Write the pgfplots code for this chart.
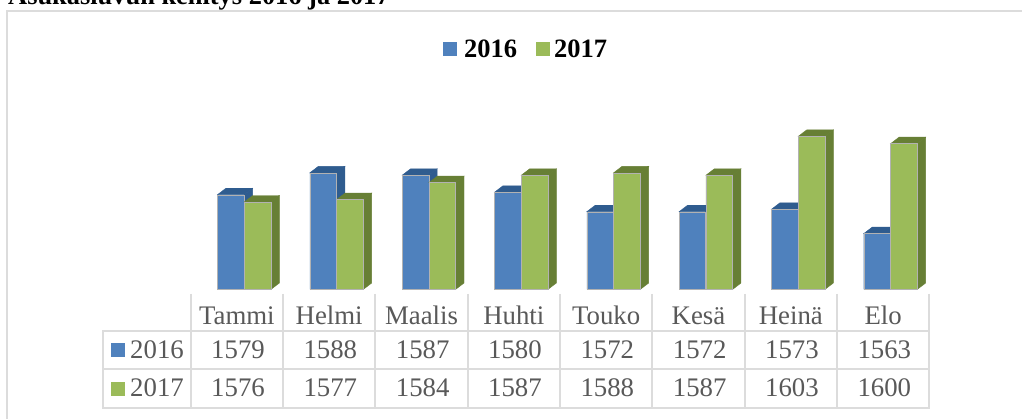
\documentclass[border=0pt]{standalone}
\usepackage{fontspec}
\setmainfont{Liberation Serif}
\usepackage{pgfplots}
\pgfplotsset{compat=1.18}
\definecolor{blue1}{HTML}{4F81BD}
\definecolor{blue2}{HTML}{2F5C8F}
\definecolor{green1}{HTML}{9BBB59}
\definecolor{green2}{HTML}{677F35}
\definecolor{txt}{HTML}{595959}
\definecolor{gridc}{HTML}{DCDCDC}

\pgfplotstableread{
x y16 y17
0 1579 1576
1 1588 1577
2 1587 1584
3 1580 1587
4 1572 1588
5 1572 1587
6 1573 1603
7 1563 1600
}\months

% faces of the 3d bars, drawn at each data point (bar top, right edge);
% marks go on top of all plots, so the front face is painted here as well
\pgfplotsset{
 depth/.style n args={3}{
  only marks,mark=*,mark size=0pt,scatter,forget plot,
  visualization depends on={rawy \as \rawy},
  scatter/@pre marker code/.code={
   \pgfscope
   \pgfmathsetlengthmacro\barh{(\rawy-1540)*2.43pt}
   \pgftransformshift{\pgfpoint{#1}{0pt}}
   \fill[#2] (0pt,0pt) -- (8.5pt,6.5pt) -- (8.5pt,{6.5pt-\barh}) -- (0pt,-\barh) -- cycle;
   \fill[#2] (0pt,0pt) -- (8.5pt,6.5pt) -- (-18.1pt,6.5pt) -- (-26.6pt,0pt) -- cycle;
   \path[fill=#3,draw=gray!60,line width=0.4pt] (0pt,0pt) rectangle (-26.6pt,-\barh);
  },
  scatter/@post marker code/.code={\endpgfscope},
 },
 front/.style={ybar,bar width=26.6pt,draw=none,fill=#1,forget plot},
}

\begin{document}
\begin{tikzpicture}[x=1pt,y=1pt]
\useasboundingbox (0,0) rectangle (1022,419);
\clip (0,0) rectangle (1022,419);
\fill[white] (0,0) rectangle (1022,419);
\node[anchor=base west,inner sep=0pt,font=\bfseries\fontsize{26.4}{26.4}\selectfont] at (8,414.5) {Asukasluvun kehitys 2016 ja 2017};
\draw[gridc,line width=1.7pt] (6.8,-2) -- (6.8,407.8);
\draw[gridc,line width=1.7pt] (6,407.8) -- (1022,407.8);

\begin{axis}[
 at={(190.7pt,129.5pt)},anchor=south west,
 scale only axis,width=738.6pt,height=170.1pt,
 xmin=-0.5,xmax=7.5,ymin=1540,ymax=1610,
 clip=false,
 axis line style={draw=none},
 xtick=data,
 xticklabels={Tammi,Helmi,Maalis,Huhti,Touko,Kesä,Heinä,Elo},
 ytick=\empty,
 major tick length=0pt,
 xticklabel style={font=\fontsize{26.8}{26.8}\selectfont,text=txt,text height=17pt,text depth=0pt,yshift=-14.5pt},
]
\addplot[front=blue1,bar shift=-6.1pt] table[x=x,y=y16] {\months};
\addplot[front=green1,bar shift=20.7pt] table[x=x,y=y17] {\months};
\addplot[depth={7.2}{blue2}{blue1}] table[x=x,y=y16] {\months};
\addplot[depth={34}{green2}{green1}] table[x=x,y=y17] {\months};
\end{axis}

% legend
\fill[blue1] (443,363) rectangle (457,377);
\node[anchor=base west,inner sep=0pt,font=\bfseries\fontsize{26.5}{26.5}\selectfont] at (464,361) {2016};
\fill[green1] (535.5,363) rectangle (550,377);
\node[anchor=base west,inner sep=0pt,font=\bfseries\fontsize{26.5}{26.5}\selectfont] at (554,361) {2017};

% data table under the chart
\begin{scope}[gridc,line width=2pt]
\foreach \i in {0,...,8} \draw ({190.7+92.33*\i},125) -- ({190.7+92.33*\i},11.3);
\draw (102.3,88) -- (930.3,88);
\draw (102.3,49.7) -- (930.3,49.7);
\draw (102.3,11.3) -- (930.3,11.3);
\draw (103.3,88) -- (103.3,11.3);
\end{scope}
\fill[blue1] (111,62) rectangle (125,76);
\fill[green1] (111,23) rectangle (125,37);
\begin{scope}[font=\fontsize{26.8}{26.8}\selectfont,text=txt,inner sep=0pt]
\node[anchor=base west] at (130,60.5) {2016};
\node[anchor=base west] at (130,22) {2017};
\foreach \v [count=\i from 0] in {1579,1588,1587,1580,1572,1572,1573,1563}
 \node[anchor=base] at ({238+92.33*\i},60.5) {\v};
\foreach \v [count=\i from 0] in {1576,1577,1584,1587,1588,1587,1603,1600}
 \node[anchor=base] at ({238+92.33*\i},22) {\v};
\end{scope}
\end{tikzpicture}
\end{document}
